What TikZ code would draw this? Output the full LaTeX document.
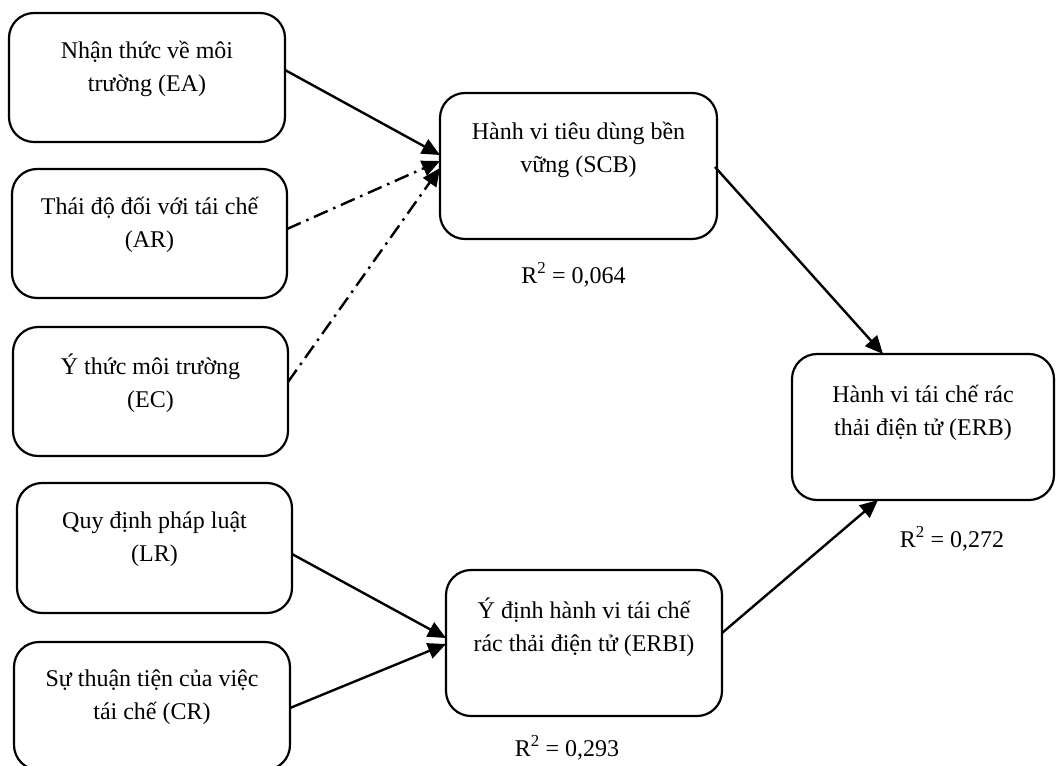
\documentclass[tikz,border=0pt]{standalone}
\usepackage{fontspec}
\setmainfont{Liberation Serif}
\usetikzlibrary{arrows.meta,calc}

\tikzset{
  box/.style={draw, line width=2.2pt, rounded corners=25pt, inner sep=0pt, outer sep=0pt},
  txt/.style={align=center, inner sep=0pt, font=\fontsize{24}{33}\selectfont},
  rlab/.style={inner sep=0pt, anchor=base, font=\fontsize{24}{29}\selectfont},
  link/.style={line width=2.4pt, -{Triangle[length=18pt,width=16pt]}},
  dashdot/.style={link, dash pattern=on 15pt off 6pt on 2.5pt off 6pt},
}

\begin{document}
\begin{tikzpicture}[x=1pt,y=-1pt]
\useasboundingbox (0,0) rectangle (1056,765);

% left column of constructs
\node[box, minimum width=276pt, minimum height=129pt] (ea) at (147,77.5) {};
\node[box, minimum width=275pt, minimum height=129pt] (ar) at (149.5,233.5) {};
\node[box, minimum width=275pt, minimum height=129pt] (ec) at (150.5,391.5) {};
\node[box, minimum width=275pt, minimum height=130pt] (lr) at (154.5,548) {};
\node[box, minimum width=276pt, minimum height=128pt] (cr) at (152,706) {};

% mediators and outcome
\node[box, minimum width=277pt, minimum height=146pt] (scb) at (578.5,166) {};
\node[box, minimum width=276pt, minimum height=146pt] (erbi) at (584,643) {};
\node[box, minimum width=262pt, minimum height=146pt] (erb) at (923,427) {};

% box texts
\node[txt] (tea) at ($(ea)+(0,-9)$) {Nhận thức về môi\\trường (EA)};
\node[txt] (tar) at ($(ar)+(0,-9)$) {Thái độ đối với tái chế\\(AR)};
\node[txt] (tec) at ($(ec)+(0,-8)$) {Ý thức môi trường\\(EC)};
\node[txt] (tlr) at ($(lr)+(0,-8.5)$) {Quy định pháp luật\\(LR)};
\node[txt] (tcr) at ($(cr)+(0,-9)$) {Sự thuận tiện của việc\\tái chế (CR)};
\node[txt] (tscb) at ($(scb)+(0,-16.5)$) {Hành vi tiêu dùng bền\\vững (SCB)};
\node[txt] (terbi) at ($(erbi)+(0,-16)$) {Ý định hành vi tái chế\\rác thải điện tử (ERBI)};
\node[txt] (terb) at ($(erb)+(0,-14)$) {Hành vi tái chế rác\\thải điện tử (ERB)};

% explained variance
\node[rlab] (rscb) at ($(scb.south)+(-5,44)$) {R\textsuperscript{2} = 0,064};
\node[rlab] (rerb) at ($(erb.south)+(29,47)$) {R\textsuperscript{2} = 0,272};
\node[rlab] (rerbi) at ($(erbi.south)+(-17,40)$) {R\textsuperscript{2} = 0,293};

% paths
\draw[link] ($(ea.east)+(0,-7.5)$) -- ($(scb.west)+(0,-11)$);
\draw[dashdot] ($(ar.east)+(0,-4.5)$) -- ($(scb.west)+(0,-5)$);
\draw[dashdot] ($(ec.east)+(0,-9.5)$) -- ($(scb.west)+(0,2)$);
\draw[link] ($(scb.east)+(-2,1)$) -- ($(erb.north)+(-40,0)$);
\draw[link] ($(lr.east)+(0,6)$) -- ($(erbi.west)+(0,-5)$);
\draw[link] ($(cr.east)+(0,2)$) -- ($(erbi.west)+(0,1)$);
\draw[link] ($(erbi.east)+(0,-10)$) -- ($(erb.south)+(-45,0)$);
\end{tikzpicture}
\end{document}
